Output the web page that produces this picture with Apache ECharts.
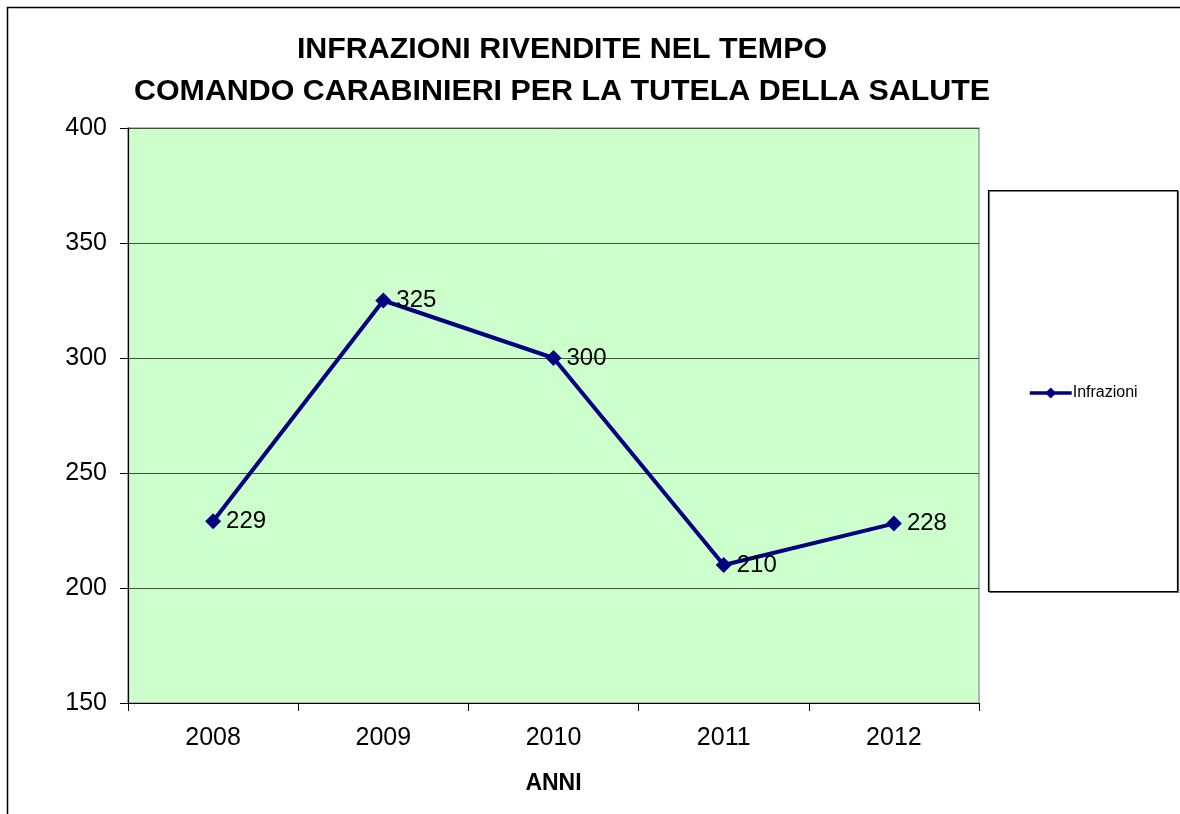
<!DOCTYPE html>
<html><head><meta charset="utf-8">
<script src="https://cdn.jsdelivr.net/npm/echarts@6/dist/echarts.min.js"></script>
<style>html,body{margin:0;padding:0;background:#fff}#c{width:1180px;height:814px}</style>
</head><body><div id="c"></div>
<script>
const years = ['2008','2009','2010','2011','2012'];
const infrazioni = [229, 325, 300, 210, 228];
const yTicks = [150, 200, 250, 300, 350, 400];
const seriesName = 'Infrazioni';

const chart = echarts.init(document.getElementById('c'));
chart.setOption({
  animation: false,
  backgroundColor: '#fff',
  textStyle: { fontFamily: 'Liberation Sans, Arial, sans-serif' },
  title: {
    text: 'INFRAZIONI RIVENDITE NEL TEMPO\nCOMANDO CARABINIERI PER LA TUTELA DELLA SALUTE',
    left: 557, top: 24, textAlign: 'center',
    textStyle: { fontSize: 30.4, fontWeight: 'bold', color: '#000', lineHeight: 42, fontFamily: 'Liberation Sans, Arial, sans-serif' }
  },
  graphic: [
    { type: 'rect', shape: { x: 7.5, y: 7.5, width: 1400, height: 1000 }, style: { fill: 'none', stroke: '#000', lineWidth: 1.5 }, z: 0 },
    { type: 'rect', shape: { x: 988.5, y: 190.5, width: 189, height: 401 }, style: { fill: '#fff', stroke: '#000', lineWidth: 1.2, shadowColor: 'rgba(0,0,0,0.5)', shadowOffsetX: 1, shadowOffsetY: 1 }, z: 0 }
  ],
  legend: {
    left: 1023, top: 380, orient: 'vertical',
    itemWidth: 42, itemHeight: 14, itemGap: 4,
    data: [seriesName],
    lineStyle: { width: 3.5 },
    textStyle: { fontSize: 16, color: '#000', padding: [0, 0, 0, -4] }
  },
  grid: {
    left: 128, right: 201, top: 128, bottom: 111,
    show: true, backgroundColor: '#CCFFCC', borderColor: '#A0A0A0', borderWidth: 1.5
  },
  xAxis: {
    type: 'category', data: years, boundaryGap: true,
    name: 'ANNI', nameLocation: 'middle', nameGap: 81,
    nameTextStyle: { fontSize: 23, fontWeight: 'bold', color: '#000', verticalAlign: 'middle' },
    axisLine: { lineStyle: { color: '#000', width: 1.2 } },
    axisTick: { show: true, alignWithLabel: false, length: 8, lineStyle: { color: '#000' } },
    axisLabel: { fontSize: 25, color: '#000', margin: 23 },
    splitLine: { show: false }
  },
  yAxis: {
    type: 'value', min: yTicks[0], max: yTicks[yTicks.length - 1], interval: 50,
    axisLine: { show: true, lineStyle: { color: '#000', width: 1.2 } },
    axisTick: { show: true, length: 8, inside: false, lineStyle: { color: '#000' } },
    axisLabel: { fontSize: 25, color: '#000', margin: 21 },
    splitLine: { show: true, lineStyle: { color: '#3C503C', width: 1 } }
  },
  series: [{
    name: seriesName, type: 'line', data: infrazioni,
    symbol: 'diamond', symbolSize: 16,
    lineStyle: { color: '#000080', width: 4 },
    itemStyle: { color: '#000080' },
    label: { show: true, position: 'right', distance: 5, fontSize: 24, color: '#000' }
  }]
});
</script></body></html>
